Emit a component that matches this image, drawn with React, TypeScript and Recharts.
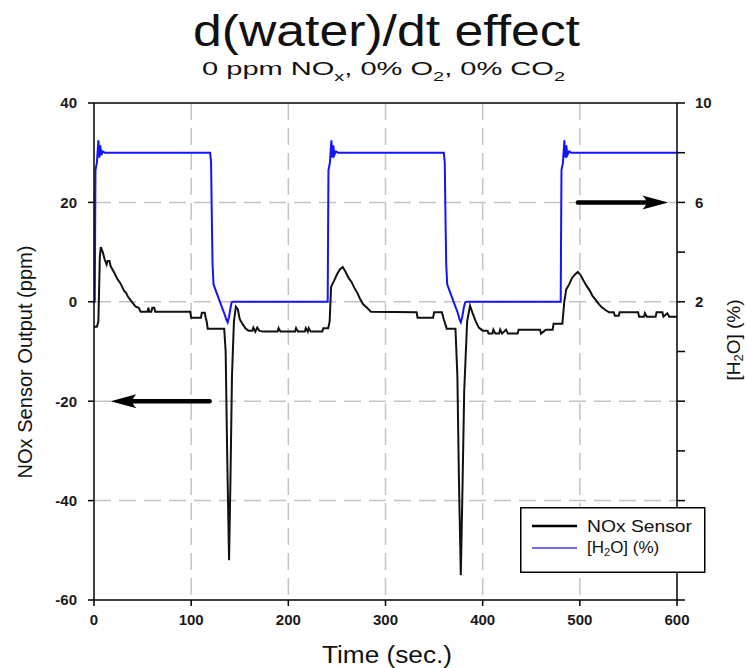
import React from 'react';
import { LineChart, Line, XAxis, YAxis, CartesianGrid, ReferenceLine, Legend } from 'recharts';

// NOx sensor output (ppm) vs time (s)
const noxTime = [0, 3, 4.5, 6, 7, 9, 11, 13, 14, 16, 17, 19, 21, 23, 25, 27, 29, 31, 33, 35, 37, 39, 41, 43, 46, 48, 55, 56, 57, 59, 60, 62, 63, 99, 100, 110, 111, 114, 115, 116, 117, 134, 135.5, 137, 139, 140.5, 142, 144, 146, 148, 150, 153, 156, 159, 163, 164, 166, 168, 170, 174, 189, 190, 192, 207, 208, 210, 217, 218, 220, 221, 223, 235, 236, 241, 242.5, 244, 247, 250, 253, 256, 259, 262, 265, 268, 271, 274, 277, 281, 285, 332, 333, 349, 350, 358, 360, 363, 372, 374, 375.5, 377.5, 379, 381, 384, 387, 390, 393, 396, 400, 405, 406, 410, 411, 413, 417, 418, 420, 424, 426, 436, 437, 459, 460, 465, 472, 473, 482, 484, 486, 489, 492, 495, 498, 501, 504, 507, 510, 513, 516, 519, 522, 526, 530, 535, 536, 540, 541, 560, 561, 566, 567, 569, 578, 579, 585, 586, 590, 592, 600];
const noxValue = [-5, -5, -4, 9, 11, 10, 8.5, 7.5, 8.2, 8.2, 7.2, 6.5, 5.8, 5, 4.3, 3.8, 3, 2.2, 1.8, 1, 0.5, 0, -0.5, -1, -1.2, -2, -2, -1.2, -2, -2, -1.2, -1.2, -2, -2, -3.2, -3.2, -2.2, -2.2, -3.2, -4, -5.4, -5.4, -10, -30, -52, -35, -15, -4, -1, -1.5, -3.5, -4.5, -5.4, -5.8, -5.8, -5.2, -6, -5.2, -5.8, -6, -6, -5.3, -6, -6, -5.3, -6, -6, -5.3, -6, -5.3, -6, -6, -5.3, -5.3, -4, 3, 4.2, 5.5, 6.5, 7, 6, 4.8, 4, 2.8, 1.8, 0.5, -0.5, -1.2, -2, -2.1, -3.2, -3.2, -2.1, -2.1, -3.5, -5.4, -5.4, -15, -35, -55, -40, -18, -4, -0.8, -2.5, -4, -5.2, -5.8, -5.8, -6.4, -6.4, -5.6, -6.4, -6.4, -5.6, -6.4, -5.6, -6.4, -6.4, -5.6, -5.6, -6.4, -5.6, -5.6, -4.4, -4.4, 0, 2.5, 3.5, 4.8, 5.5, 6, 5.3, 4.2, 3.2, 2.3, 1.2, 0.5, -0.3, -1, -1.6, -2.1, -2.1, -2.8, -2.8, -2.1, -2.1, -3, -3, -2.3, -3, -3, -2.1, -2.1, -3, -2.3, -3, -3];

// water concentration (%) vs time (s)
const h2oTime = [0, 0.8, 1.5, 3, 4.5, 5.5, 6.5, 7.5, 9, 11, 119.5, 120.5, 121.2, 122, 123, 126, 130, 134, 136.5, 137.6, 139, 140.5, 141.7, 143, 240.5, 241.3, 242.8, 244.3, 245.3, 246.3, 247.3, 249, 251, 360, 361, 361.7, 362.5, 363.5, 366.5, 370.5, 374.5, 376.5, 377.5, 379, 380.5, 382, 384, 480.3, 481.1, 482.6, 484.1, 485.1, 486.1, 487.1, 489, 491, 600];
const h2oValue = [2, 2, 7.3, 7.6, 8.5, 7.8, 8.3, 7.9, 8.05, 8, 8, 7.6, 5.5, 3.5, 2.7, 2.38, 1.96, 1.54, 1.25, 1.17, 1.4, 1.75, 1.98, 2, 2, 7.3, 7.6, 8.5, 7.8, 8.3, 7.9, 8.05, 8, 8, 7.6, 5.5, 3.5, 2.7, 2.38, 1.96, 1.54, 1.25, 1.17, 1.4, 1.75, 1.98, 2, 2, 7.3, 7.6, 8.5, 7.8, 8.3, 7.9, 8.05, 8, 8];

const xTicks = [0, 100, 200, 300, 400, 500, 600];
const leftTicks = [-60, -40, -20, 0, 20, 40];
const rightTicks = [-10, -8, -6, -4, -2, 0, 2, 4, 6, 8, 10];
const rightLabelled = [10, 6, 2];
const gridX = [100, 200, 300, 400, 500];
const gridY = [20, 0, -20, -40];

// annotation arrows (data coordinates)
const leftArrow = [{ x: 119, y: -20 }, { x: 17, y: -20 }];
const rightArrow = [{ x: 498, y: 20 }, { x: 591, y: 20 }];

const noxData = noxTime.map((t, i) => ({ t, v: noxValue[i] }));
const h2oData = h2oTime.map((t, i) => ({ t, w: h2oValue[i] }));

const FONT = '"Liberation Sans", Arial, Helvetica, sans-serif';
const tickStyle = { fontFamily: FONT, fontSize: 15, fontWeight: 700, fill: '#1a1a1a' };

const ArrowShape = (p: any) => {
  const { x1, y1, x2, y2 } = p;
  const dir = x2 > x1 ? 1 : -1;
  const headLen = 26;
  const half = 7;
  const baseX = x2 - dir * headLen;
  return (
    <g>
      <line x1={x1} y1={y1} x2={baseX + dir * 4} y2={y2} stroke="#000" strokeWidth={4.5} strokeLinecap="round" />
      <path
        d={`M${x2},${y2} L${baseX},${y2 - half} Q${baseX + dir * 8},${y2} ${baseX},${y2 + half} Z`}
        fill="#000"
      />
    </g>
  );
};

const LegendBox = () => (
  <svg width={186} height={66} style={{ display: 'block' }}>
    <rect x={0.75} y={0.75} width={184} height={64.5} fill="#fff" stroke="#000" strokeWidth={1.5} />
    <line x1={12} x2={57} y1={19} y2={19} stroke="#000" strokeWidth={2.5} />
    <text x={67} y={25} fontFamily={FONT} fontSize={17} fill="#111" textLength={105} lengthAdjust="spacingAndGlyphs">
      NOx Sensor
    </text>
    <line x1={12} x2={57} y1={41} y2={41} stroke="#3b3bff" strokeWidth={1.5} />
    <text x={67} y={46} fontFamily={FONT} fontSize={17} fill="#111">
      [H<tspan fontSize={11} baselineShift="-25%">2</tspan>O] (%)
    </text>
  </svg>
);

export default function App() {
  return (
    <div style={{ position: 'absolute', left: 0, top: 0, width: 747, height: 668, background: '#fff' }}>
      <LineChart width={747} height={668} margin={{ top: 103, right: 20, bottom: 28, left: 34 }}>
        <CartesianGrid
          horizontalValues={gridY}
          verticalValues={gridX}
          stroke="#c4c4c4"
          strokeWidth={1.5}
          strokeDasharray="17 8"
          yAxisId="left"
        />
        <XAxis
          type="number"
          dataKey="t"
          domain={[0, 600]}
          ticks={xTicks}
          allowDataOverflow
          height={40}
          tickSize={6}
          tickMargin={8}
          tick={tickStyle}
          axisLine={{ stroke: '#000', strokeWidth: 1.5 }}
          tickLine={{ stroke: '#000', strokeWidth: 1.5 }}
        />
        <YAxis
          yAxisId="left"
          orientation="left"
          type="number"
          domain={[-60, 40]}
          ticks={leftTicks}
          allowDataOverflow
          width={60}
          tickSize={6}
          tickMargin={11}
          tick={tickStyle}
          axisLine={{ stroke: '#000', strokeWidth: 1.5 }}
          tickLine={{ stroke: '#000', strokeWidth: 1.5 }}
        />
        <YAxis
          yAxisId="right"
          orientation="right"
          type="number"
          domain={[-10, 10]}
          ticks={rightTicks}
          allowDataOverflow
          width={50}
          tickSize={8}
          tickMargin={10}
          tick={tickStyle}
          tickFormatter={(v: number) => (rightLabelled.includes(v) ? String(v) : '')}
          axisLine={{ stroke: '#000', strokeWidth: 1.5 }}
          tickLine={{ stroke: '#000', strokeWidth: 1.5 }}
        />
        <ReferenceLine yAxisId="left" y={40} stroke="#000" strokeWidth={1.5} />
        <Line
          yAxisId="right"
          data={h2oData}
          dataKey="w"
          name="[H2O] (%)"
          type="linear"
          stroke="#1414ff"
          strokeWidth={2}
          dot={false}
          isAnimationActive={false}
        />
        <Line
          yAxisId="left"
          data={noxData}
          dataKey="v"
          name="NOx Sensor"
          type="linear"
          stroke="#111"
          strokeWidth={2}
          dot={false}
          isAnimationActive={false}
        />
        <ReferenceLine yAxisId="left" segment={leftArrow} shape={ArrowShape} ifOverflow="visible" />
        <ReferenceLine yAxisId="left" segment={rightArrow} shape={ArrowShape} ifOverflow="visible" />
        <Legend
          layout="vertical"
          align="center"
          verticalAlign="middle"
          content={<LegendBox />}
          wrapperStyle={{ position: 'absolute', left: 520, top: 507, width: 186, height: 66, bottom: 'auto', right: 'auto', margin: 0 }}
        />
      </LineChart>
      <svg
        width={747}
        height={668}
        style={{ position: 'absolute', left: 0, top: 0, pointerEvents: 'none' }}
      >
        <text x={386.5} y={46} textAnchor="middle" fontFamily={FONT} fontSize={44} fill="#111" textLength={387} lengthAdjust="spacingAndGlyphs">
          d(water)/dt effect
        </text>
        <text x={202} y={75} fontFamily={FONT} fontSize={19} fill="#111" textLength={363} lengthAdjust="spacingAndGlyphs">
          0 ppm NO<tspan fontSize={13} dy={6}>x</tspan>
          <tspan dy={-6}>, 0% O</tspan>
          <tspan fontSize={13} dy={6}>2</tspan>
          <tspan dy={-6}>, 0% CO</tspan>
          <tspan fontSize={13} dy={6}>2</tspan>
        </text>
        <text
          transform="translate(32,362) rotate(-90)"
          textAnchor="middle"
          fontFamily={FONT}
          fontSize={20}
          fill="#111"
          textLength={233}
          lengthAdjust="spacingAndGlyphs"
        >
          NOx Sensor Output (ppm)
        </text>
        <text
          transform="translate(740,340) rotate(-90)"
          textAnchor="middle"
          fontFamily={FONT}
          fontSize={19}
          fill="#111"
        >
          [H<tspan fontSize={13} baselineShift="-25%">2</tspan>O] (%)
        </text>
        <text x={387} y={663} textAnchor="middle" fontFamily={FONT} fontSize={23} fill="#111" textLength={130} lengthAdjust="spacingAndGlyphs">
          Time (sec.)
        </text>
      </svg>
    </div>
  );
}
